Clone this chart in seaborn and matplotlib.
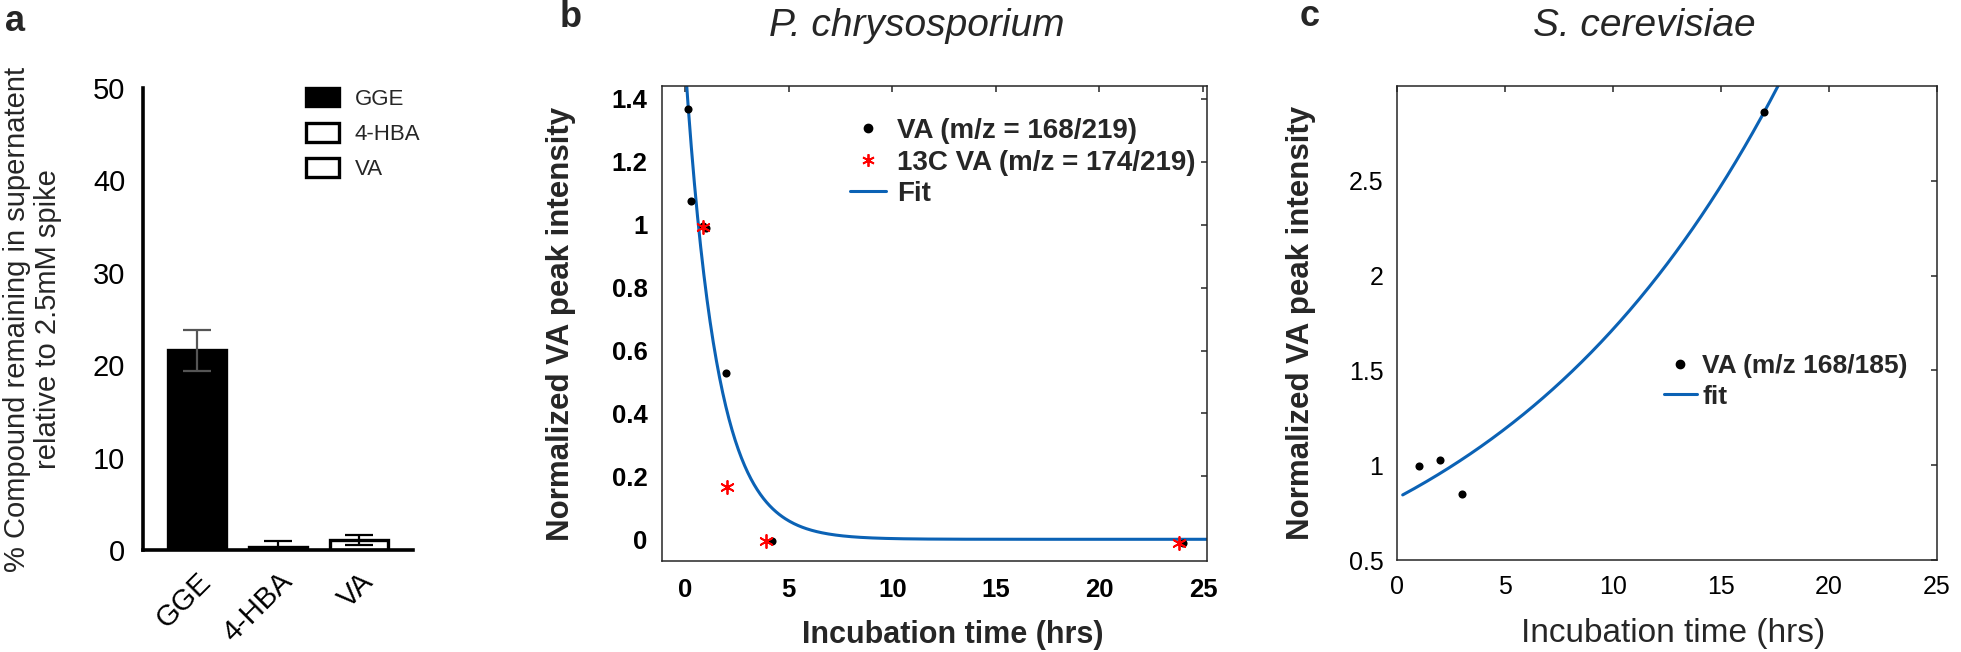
import numpy as np
import pandas as pd
import matplotlib
matplotlib.use("Agg")
import matplotlib.pyplot as plt
import seaborn as sns
from matplotlib.lines import Line2D
from matplotlib.patches import Patch

# ---------------- data ----------------
compounds = ["GGE", "4-HBA", "VA"]
remaining_pct = [21.6, 0.37, 1.08]
remaining_err = [2.2, 0.6, 0.58]
bar_fill = ["black", "white", "white"]

b_va_time = [0.13, 0.29, 0.88, 1.0, 1.98, 4.18, 24.02]
b_va_int = [1.367, 1.076, 0.996, 0.989, 0.53, -0.004, -0.013]
b_13c_time = [0.85, 2.01, 3.89, 23.86]
b_13c_int = [0.994, 0.167, -0.004, -0.013]
b_fit_amp, b_fit_rate, b_fit_span = 1.52, 0.65, (0.0, 25.2)

c_va_time = [1.0, 2.0, 3.0, 17.0]
c_va_int = [0.996, 1.027, 0.846, 2.865]
c_fit_amp, c_fit_rate, c_fit_span = 0.828, 0.073, (0.25, 25.0)

b_xticks = [0, 5, 10, 15, 20, 25]
b_yticks = [0, 0.2, 0.4, 0.6, 0.8, 1.0, 1.2, 1.4]
b_yticklabels = ["0", "0.2", "0.4", "0.6", "0.8", "1", "1.2", "1.4"]
c_xticks = [0, 5, 10, 15, 20, 25]
c_yticks = [0.5, 1.0, 1.5, 2.0, 2.5]
c_yticklabels = ["0.5", "1", "1.5", "2", "2.5"]

# ---------------- style ----------------
sns.set_style("white")
plt.rcParams["font.family"] = ["Liberation Sans", "DejaVu Sans"]
plt.rcParams["axes.unicode_minus"] = False

W, H = 1961, 652
fig = plt.figure(figsize=(W / 100, H / 100), dpi=100)


def fx(px):
    return px / W


def fy(py):
    return 1 - py / H


def box(l, t, r, b):
    return [fx(l), fy(b), (r - l) / W, (b - t) / H]


BLUE = "#0b62b5"

# ---------------- panel a ----------------
axa = fig.add_axes(box(142.7, 88, 413, 550))
dfa = pd.DataFrame({"compound": compounds, "pct": remaining_pct})
sns.barplot(data=dfa, x="compound", y="pct", hue="compound",
            palette=dict(zip(compounds, bar_fill)), edgecolor="black",
            linewidth=2.4, width=0.72, legend=False, errorbar=None, ax=axa)
pos = np.arange(len(compounds))
err_cols = ["#555555", "black", "black"]
for p, v, e, c in zip(pos, remaining_pct, remaining_err, err_cols):
    axa.errorbar(p, v, yerr=e, fmt="none", ecolor=c, elinewidth=1.6,
                 capsize=10, capthick=1.6, zorder=5)
axa.set_xlim(-0.667, 2.667)
axa.set_ylim(0, 50)
axa.set_yticks([0, 10, 20, 30, 40, 50])
for s in ["top", "right"]:
    axa.spines[s].set_visible(False)
for s in ["left", "bottom"]:
    axa.spines[s].set_linewidth(2.6)
    axa.spines[s].set_color("black")
axa.tick_params(axis="both", direction="out", length=7.5, width=2.6,
                labelsize=21, pad=5, colors="black")
axa.set_xlabel("")
plt.setp(axa.get_xticklabels(), rotation=45, ha="right",
         rotation_mode="anchor")
axa.set_ylabel("% Compound remaining in supernatent\nrelative to 2.5mM spike",
               fontsize=21, linespacing=1.15)
axa.yaxis.set_label_coords((62 - 142.7) / 270.3, 0.5)
handles_a = [Patch(facecolor=f, edgecolor="black", linewidth=2.4, label=c)
             for c, f in zip(compounds, bar_fill)]
axa.legend(handles=handles_a, loc="upper left",
           bbox_to_anchor=(fx(305.7), fy(88)), bbox_transform=fig.transFigure,
           frameon=False, fontsize=16, handlelength=1.5, handleheight=0.9,
           handletextpad=0.7, labelspacing=0.6, borderpad=0, borderaxespad=0)

# ---------------- panel b ----------------
axb = fig.add_axes(box(662, 86, 1207, 561))
xb = np.linspace(*b_fit_span, 500)
sns.lineplot(x=xb, y=b_fit_amp * np.exp(-b_fit_rate * xb), color=BLUE,
             linewidth=2.2, ax=axb, zorder=2)
sns.scatterplot(x=b_va_time, y=b_va_int, color="black", s=34,
                edgecolor="black", linewidth=0, ax=axb, zorder=3)
sns.scatterplot(x=b_13c_time, y=b_13c_int, color="red", marker=(6, 2, 0),
                s=90, linewidth=1.3, ax=axb, zorder=4)
axb.set_xlim(-1.11, 25.19)
axb.set_ylim(-0.069, 1.441)
axb.set_xticks(b_xticks)
axb.set_yticks(b_yticks)
axb.set_yticklabels(b_yticklabels)

# ---------------- panel c ----------------
axc = fig.add_axes(box(1397.3, 86, 1937, 560))
xc = np.linspace(*c_fit_span, 500)
sns.lineplot(x=xc, y=c_fit_amp * np.exp(c_fit_rate * xc), color=BLUE,
             linewidth=2.2, ax=axc, zorder=2)
sns.scatterplot(x=c_va_time, y=c_va_int, color="black", s=34,
                linewidth=0, ax=axc, zorder=3)
axc.set_xlim(0, 25)
axc.set_ylim(0.5, 3.0)
axc.set_xticks(c_xticks)
axc.set_yticks(c_yticks)
axc.set_yticklabels(c_yticklabels)

for ax in (axb, axc):
    for s in ax.spines.values():
        s.set_visible(True)
        s.set_linewidth(1.1)
        s.set_color("#262626")
    ax.tick_params(axis="both", which="both", direction="in", length=4.5,
                   width=1.1, top=True, right=True, colors="#262626",
                   labelcolor="black")

axb.tick_params(axis="x", labelsize=18.5, pad=12)
axb.tick_params(axis="y", labelsize=18.5, pad=10.5)
for lab in axb.get_xticklabels() + axb.get_yticklabels():
    lab.set_fontweight("bold")
axc.tick_params(axis="x", labelsize=18, pad=11)
axc.tick_params(axis="y", labelsize=18, pad=10)

axb.set_xlabel("Incubation time (hrs)", fontsize=22, fontweight="bold", va="top")
axb.xaxis.set_label_coords((952.5 - 662) / 545, (561 - 620) / 475)
axb.set_ylabel("Normalized VA peak intensity", fontsize=22.5, fontweight="bold")
axb.yaxis.set_label_coords((576 - 662) / 545, 0.5)

axc.set_xlabel("Incubation time (hrs)", fontsize=24, va="top")
axc.xaxis.set_label_coords((1673 - 1397.3) / 539.7, (560 - 618) / 474)
axc.set_ylabel("Normalized VA peak intensity", fontsize=22.5, fontweight="bold")
axc.yaxis.set_label_coords((1316 - 1397.3) / 539.7, 0.5)

handles_b = [
    Line2D([], [], ls="none", marker="o", color="black", markersize=6),
    Line2D([], [], ls="none", marker=(6, 2, 0), color="red", markersize=9,
           markeredgewidth=1.3),
    Line2D([], [], color=BLUE, linewidth=2.2),
]
axb.legend(handles_b, ["VA (m/z = 168/219)", "13C VA (m/z = 174/219)", "Fit"],
           loc="upper left", bbox_to_anchor=(fx(850), fy(118)),
           bbox_transform=fig.transFigure, frameon=False,
           prop={"size": 20, "weight": "bold"}, handlelength=1.3,
           handletextpad=0.4, labelspacing=0.2, borderpad=0, borderaxespad=0)

handles_c = [
    Line2D([], [], ls="none", marker="o", color="black", markersize=6),
    Line2D([], [], color=BLUE, linewidth=2.2),
]
axc.legend(handles_c, ["VA (m/z 168/185)", "fit"], loc="upper left",
           bbox_to_anchor=(fx(1664), fy(354)), bbox_transform=fig.transFigure,
           frameon=False, prop={"size": 19, "weight": "bold"},
           handlelength=1.25, handletextpad=0.2, labelspacing=0.25,
           borderpad=0, borderaxespad=0)

# ---------------- titles & panel letters ----------------
fig.text(fx(917), fy(26), "P. chrysosporium", fontsize=28, style="italic",
         ha="center", va="center")
fig.text(fx(1644), fy(26), "S. cerevisiae", fontsize=28, style="italic",
         ha="center", va="center")
for letter, x, y in [("a", 5, 31), ("b", 560, 27), ("c", 1300, 26)]:
    fig.text(fx(x), fy(y), letter, fontsize=26, fontweight="bold",
             ha="left", va="baseline")

fig.savefig("out.png", dpi=100)
